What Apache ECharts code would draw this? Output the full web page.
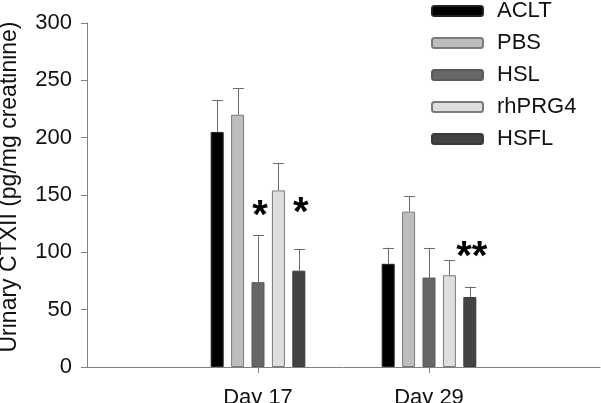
<!DOCTYPE html>
<html>
<head>
<meta charset="utf-8">
<script src="https://cdn.jsdelivr.net/npm/echarts@6/dist/echarts.min.js"></script>
<style>html,body{margin:0;padding:0;background:#fff;}#c{width:601px;height:403px;}</style>
</head>
<body>
<div id="c"></div>
<script>
var categories = ['', 'Day 17', 'Day 29', ''];
var seriesNames = ['ACLT', 'PBS', 'HSL', 'rhPRG4', 'HSFL'];
var acltValues = [null, 205, 90, null];
var pbsValues = [null, 220, 135.5, null];
var hslValues = [null, 74, 78, null];
var rhprg4Values = [null, 154, 80, null];
var hsflValues = [null, 84, 61, null];
var acltErrTop = [null, 233, 104, null];
var pbsErrTop = [null, 243, 149, null];
var hslErrTop = [null, 115, 104, null];
var rhprg4ErrTop = [null, 178, 93, null];
var hsflErrTop = [null, 103, 70, null];
// significance marks: [category index, series index, value, text]
var starMarks = [[1, 2, 139, '*'], [1, 4, 141, '*'], [2, 4, 103, '**']];
var yTicks = [0, 50, 100, 150, 200, 250, 300];

var fillColors = ['#000000', '#bdbdbd', '#676767', '#dedede', '#434343'];
var borderColors = ['#222222', '#7a7a7a', '#5a5a5a', '#7a7a7a', '#3a3a3a'];
var values = [acltValues, pbsValues, hslValues, rhprg4Values, hsflValues];
var errTops = [acltErrTop, pbsErrTop, hslErrTop, rhprg4ErrTop, hsflErrTop];

var BAR_W = 13, BAR_GAP = 0.57;
function offsetOf(si) { return (si - (seriesNames.length - 1) / 2) * BAR_W * (1 + BAR_GAP); }

var series = [];
seriesNames.forEach(function (n, i) {
  series.push({
    name: n, type: 'bar', data: values[i], barWidth: BAR_W, barGap: (BAR_GAP * 100) + '%',
    itemStyle: { color: fillColors[i], borderColor: borderColors[i], borderWidth: 1 },
    z: 2
  });
});
var errData = [];
seriesNames.forEach(function (n, i) {
  values[i].forEach(function (v, c) {
    if (v != null) errData.push([c, v, errTops[i][c], i]);
  });
});
series.push({
  type: 'custom', data: errData, z: 3, silent: true,
  renderItem: function (params, api) {
    var c = api.value(0), si = api.value(3);
    var x = api.coord([c, 0])[0] + offsetOf(si);
    var y0 = api.coord([c, api.value(1)])[1];
    var y1 = api.coord([c, api.value(2)])[1];
    var st = { stroke: '#6a6a6a', lineWidth: 1 };
    return { type: 'group', children: [
      { type: 'line', shape: { x1: Math.round(x) + 0.5, y1: y0, x2: Math.round(x) + 0.5, y2: y1 }, style: st },
      { type: 'line', shape: { x1: Math.round(x) - 5, y1: Math.round(y1) + 0.5, x2: Math.round(x) + 6, y2: Math.round(y1) + 0.5 }, style: st }
    ]};
  }
});
series.push({
  type: 'custom', data: starMarks, z: 4, silent: true,
  renderItem: function (params, api) {
    var c = api.value(0), si = api.value(1);
    var p = api.coord([c, api.value(2)]);
    return { type: 'text', x: p[0] + offsetOf(si) + 2, y: p[1] + 9,
      style: { text: starMarks[params.dataIndex][3], fill: '#000', font: 'bold 40px "Liberation Sans", Arial, sans-serif', align: 'center', verticalAlign: 'middle' } };
  }
});

var chart = echarts.init(document.getElementById('c'), null, { renderer: 'canvas' });
chart.setOption({
  animation: false,
  backgroundColor: '#ffffff',
  textStyle: { fontFamily: '"Liberation Sans", Arial, sans-serif' },
  grid: { left: 87, right: 1, top: 23, bottom: 36, containLabel: false, outerBoundsMode: 'none' },
  legend: {
    data: seriesNames, orient: 'vertical', left: 431, top: 0, padding: 0,
    itemWidth: 51, itemHeight: 10, itemGap: 10,
    textStyle: { fontSize: 22, color: '#111', lineHeight: 16, padding: [0, 0, 0, 9] }
  },
  xAxis: {
    type: 'category', data: categories, boundaryGap: false,
    axisLine: { lineStyle: { color: '#808080', width: 1 } },
    axisTick: { show: true, length: 6, lineStyle: { color: '#808080' }, interval: function (i) { return i === 1 || i === 2; } },
    axisLabel: { fontSize: 22, color: '#111', margin: 20, interval: 0 },
    splitLine: { show: false }
  },
  yAxis: {
    type: 'value', min: yTicks[0], max: yTicks[yTicks.length - 1], interval: 50,
    name: 'Urinary CTXII (pg/mg creatinine)', nameLocation: 'middle', nameGap: 66, nameRotate: 90,
    nameTextStyle: { fontSize: 23, color: '#111', padding: [0, 0, 0, 16] },
    axisLine: { show: true, lineStyle: { color: '#808080', width: 1 } },
    axisTick: { show: true, length: 6, lineStyle: { color: '#808080' } },
    axisLabel: { fontSize: 22, color: '#111', margin: 15 },
    splitLine: { show: false }
  },
  series: series
});
</script>
</body>
</html>
